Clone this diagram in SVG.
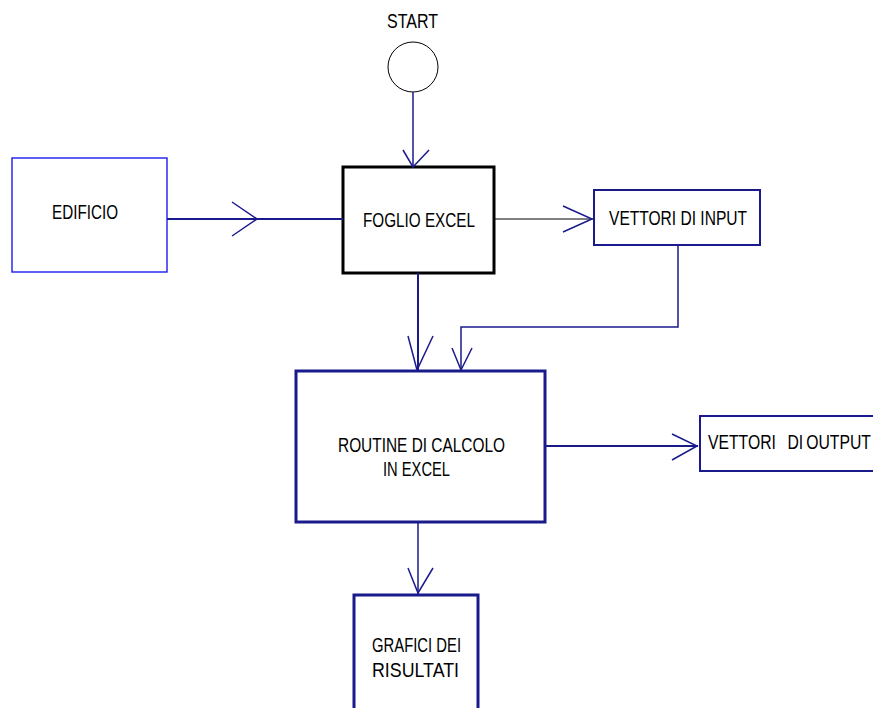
<svg xmlns="http://www.w3.org/2000/svg" width="873" height="708" viewBox="0 0 873 708">
<style>
text{font-family:"Liberation Sans",Arial,sans-serif;font-size:21px;fill:#000;}
.c{fill:none;stroke:#1a1a8c;stroke-width:1.5;}
.h{fill:none;stroke:#1a1a8c;stroke-width:1.5;}
</style>
<rect width="873" height="708" fill="#fff"/>
<g id="start">
<text x="387" y="28" textLength="51" lengthAdjust="spacingAndGlyphs">START</text>
<circle cx="413" cy="67" r="25" fill="none" stroke="#000" stroke-width="1"/>
</g>
<g id="edificio">
<rect x="12" y="158" width="155" height="114" fill="none" stroke="#1c1cf0" stroke-width="1.4"/>
<text x="52" y="219" textLength="66" lengthAdjust="spacingAndGlyphs">EDIFICIO</text>
</g>
<g id="foglio">
<rect x="343" y="167" width="151" height="106" fill="none" stroke="#000" stroke-width="3"/>
<text x="363" y="227" textLength="112" lengthAdjust="spacingAndGlyphs">FOGLIO EXCEL</text>
</g>
<g id="vettori-input">
<rect x="594" y="190" width="166" height="55" fill="none" stroke="#1a1a8c" stroke-width="2"/>
<text x="609" y="225" textLength="138" lengthAdjust="spacingAndGlyphs">VETTORI DI INPUT</text>
</g>
<g id="routine">
<rect x="296" y="371" width="249" height="151" fill="none" stroke="#1a1a8c" stroke-width="3"/>
<text x="338" y="452" textLength="167" lengthAdjust="spacingAndGlyphs">ROUTINE DI CALCOLO</text>
<text x="383" y="476" textLength="67" lengthAdjust="spacingAndGlyphs">IN EXCEL</text>
</g>
<g id="vettori-output">
<rect x="700" y="416" width="185" height="55" fill="none" stroke="#1a1a8c" stroke-width="2"/>
<text transform="translate(708 449) scale(0.75 1)" y="0"><tspan x="0">VETTORI</tspan> <tspan x="106">DI</tspan> <tspan x="131">OUTPUT</tspan></text>
</g>
<g id="grafici">
<rect x="354" y="595" width="124" height="130" fill="none" stroke="#1a1a8c" stroke-width="3"/>
<text x="372" y="652" textLength="89" lengthAdjust="spacingAndGlyphs">GRAFICI DEI</text>
<text x="372" y="677" textLength="87" lengthAdjust="spacingAndGlyphs">RISULTATI</text>
</g>
<g id="connectors">
<path class="c" d="M413 92V167"/>
<path class="h" d="M403 150L413 167L429 150"/>
<path class="c" d="M167 219H343" style="stroke-width:2"/>
<path class="h" d="M232 202L257 219L232 236"/>
<path d="M494 219H593" fill="none" stroke="#000" stroke-width="1"/>
<path class="h" d="M563 206L592 219L563 232"/>
<path class="c" d="M418 273V371" style="stroke-width:2"/>
<path class="h" d="M408 336L417 370L433 336"/>
<path class="c" d="M678 245V327H461V370"/>
<path class="h" d="M452 348L461 370L472 348"/>
<path class="c" d="M545 446H698" style="stroke-width:2"/>
<path class="h" d="M672 434L697 446L672 460"/>
<path class="c" d="M418 522V594"/>
<path class="h" d="M408 568L418 593L433 568"/>
</g>
</svg>
